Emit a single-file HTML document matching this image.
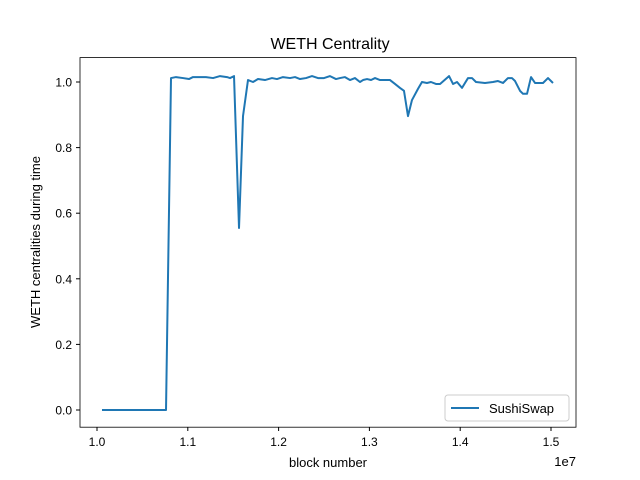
<!DOCTYPE html>
<html><head><meta charset="utf-8"><style>body{margin:0;background:#fff}svg{display:block;font-family:"Liberation Sans","DejaVu Sans",sans-serif}</style></head>
<body>
<svg id="chart" width="640" height="480" xmlns="http://www.w3.org/2000/svg">
<rect width="640" height="480" fill="#fff"/>
<text x="330" y="49" text-anchor="middle" font-size="16">WETH Centrality</text>
<g id="ax"></g>
<text x="328" y="467" text-anchor="middle" font-size="13">block number</text>
<text x="576" y="466" text-anchor="end" font-size="13">1e7</text>
<text transform="translate(40,242) rotate(-90)" text-anchor="middle" font-size="13">WETH centralities during time</text>
<g>
<rect x="445" y="395" width="124" height="26" fill="#fff" stroke="#ccc" rx="3"/>
<line x1="451" y1="408" x2="479" y2="408" stroke="#1f77b4" stroke-width="2"/>
<text x="489" y="413" font-size="13">SushiSwap</text>
</g>
</svg>
<script>
const blocks=[1.0055,1.076,1.0815,1.087,1.0947,1.1013,1.1057,1.1123,1.12,1.1278,1.1355,1.1432,1.1465,1.1509,1.1564,1.1608,1.1663,1.1718,1.1773,1.185,1.1927,1.1982,1.2048,1.2126,1.2181,1.2236,1.2302,1.2368,1.2434,1.25,1.2566,1.2632,1.2676,1.2731,1.2786,1.2841,1.2896,1.293,1.2974,1.3018,1.3062,1.3117,1.3183,1.3227,1.3282,1.3337,1.3381,1.3425,1.3469,1.3535,1.3579,1.3634,1.3678,1.3733,1.3778,1.3877,1.3921,1.3965,1.402,1.4086,1.413,1.4174,1.4273,1.4361,1.4416,1.4471,1.4526,1.457,1.4604,1.4659,1.4692,1.4736,1.478,1.4824,1.4912,1.4967,1.5022];
const centrality=[0,0,1.012,1.015,1.012,1.009,1.015,1.015,1.015,1.012,1.018,1.015,1.012,1.018,0.555,0.896,1.006,1.0,1.009,1.006,1.012,1.009,1.015,1.012,1.015,1.009,1.012,1.018,1.012,1.012,1.018,1.009,1.012,1.015,1.006,1.012,1.0,1.006,1.009,1.006,1.012,1.006,1.006,1.006,0.994,0.982,0.973,0.896,0.945,0.979,1.0,0.997,1.0,0.994,0.994,1.018,0.994,1.0,0.982,1.012,1.012,1.0,0.997,1.0,1.003,0.997,1.012,1.012,1.003,0.973,0.964,0.964,1.015,0.997,0.997,1.012,0.997];
const xTicks=[1.0,1.1,1.2,1.3,1.4,1.5];
const yTicks=[0.0,0.2,0.4,0.6,0.8,1.0];
const X=v=>97+(v-1.0)*908;
const Y=v=>410-v*328;
const ns="http://www.w3.org/2000/svg";
const ax=document.getElementById('ax');
function mk(t,a,p){const e=document.createElementNS(ns,t);for(const k in a)e.setAttribute(k,a[k]);(p||ax).appendChild(e);return e;}
xTicks.forEach(t=>{
 const l=mk('line',{x1:X(t),x2:X(t),y1:427,y2:431,stroke:'#000'});
 
 
 const s=mk('text',{x:X(t),y:446,'text-anchor':'middle','font-size':12});s.textContent=t.toFixed(1);
 
 
});
yTicks.forEach(t=>{
 const l=mk('line',{x1:76,x2:80,y1:Y(t),y2:Y(t),stroke:'#000'});
 
 
 const s=mk('text',{x:72,y:Y(t)+4.5,'text-anchor':'end','font-size':12});s.textContent=t.toFixed(1);
 
 
});
const line=mk('polyline',{points:blocks.map((b,i)=>X(b)+','+Y(centrality[i])).join(' '),fill:'none',stroke:'#1f77b4','stroke-width':2,'stroke-linejoin':'round'});


const fr=mk('rect',{x:80,y:57.6,width:496,height:369.6,fill:'none',stroke:'#000','stroke-width':0.8});


</script>
</body></html>
